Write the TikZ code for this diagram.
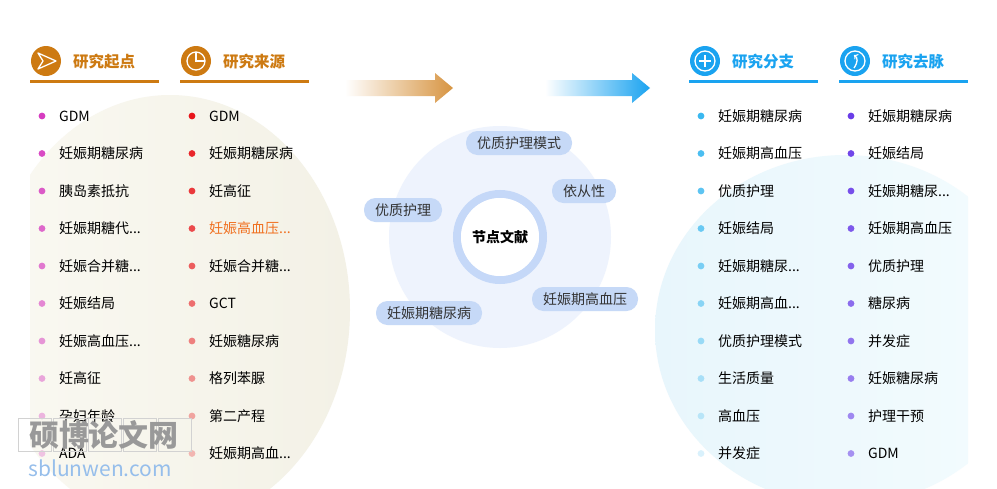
\documentclass[tikz,border=0pt]{standalone}
\usepackage{fontspec}
\setmainfont{Noto Sans CJK SC}
\newcommand\myel{...}
\begin{document}
\begin{tikzpicture}[x=1pt,y=-1pt,
  item/.style={anchor=west,font=\fontsize{14}{16}\selectfont,inner sep=0},
  hdr/.style={anchor=west,font=\fontsize{15.5}{18}\selectfont\bfseries,inner sep=0},
  tag/.style={fill=tagc,rounded corners=11.5pt,minimum height=24pt,inner xsep=11pt,font=\fontsize{14}{16}\selectfont,text=black!80}]
\definecolor{org}{HTML}{CD7A12}
\definecolor{blu}{HTML}{1AA3F0}
\definecolor{tagc}{HTML}{C6D9F7}
\useasboundingbox (0,0) rectangle (997,488);
\fill[white] (0,0) rectangle (997,488);
% background blobs
\begin{scope}
\clip (30,85) rectangle (400,488);
\shade[left color={rgb,255:red,250;green,249;blue,242},right color={rgb,255:red,243;green,241;blue,230}] (170,310) ellipse [x radius=180,y radius=215];
\end{scope}
\begin{scope}
\clip (600,85) rectangle (968,488);
\shade[left color={rgb,255:red,232;green,246;blue,252},right color={rgb,255:red,244;green,252;blue,254}] (845,330) ellipse [x radius=190,y radius=175];
\end{scope}
% center
\fill[color={rgb,255:red,238;green,243;blue,253}] (500,237) circle (111);
\draw[line width=8pt,color={rgb,255:red,197;green,216;blue,248}] (500,237) circle (43);
\fill[white] (500,237) circle (39);
\node[font=\fontsize{14}{16}\selectfont\bfseries] (c) at (500,237) {节点文献};
\node[tag] (t1) at (519,143) {优质护理模式};
\node[tag] (t2) at (584,191) {依从性};
\node[tag] (t3) at (403,210) {优质护理};
\node[tag] (t4) at (429,313) {妊娠期糖尿病};
\node[tag] (t5) at (585,299) {妊娠期高血压};
% arrows
\shade[left color=white,right color=org!80] (345,80) -- (435,80) -- (435,73) -- (453,88) -- (435,103) -- (435,96) -- (345,96) -- cycle;
\shade[left color=white,right color=blu] (545,80) -- (632,80) -- (632,73) -- (650,88) -- (632,103) -- (632,96) -- (545,96) -- cycle;
% headers
\foreach \x/\c/\t in {30/org/研究起点,180/org/研究来源,689/blu/研究分支,839/blu/研究去脉}{
  \fill[\c] (\x,79.5) rectangle (\x+129,82.5);
  \fill[\c] (\x+16,61) circle (15);
  \node[hdr,text=\c] at (\x+43,62) {\t};
}
% icons
\draw[white,line width=1.3pt,line join=round] (38,53) -- (56,61) -- (38,69) -- (43,61) -- cycle;
\draw[white,line width=1.3pt] (196,61) circle (9);
\draw[white,line width=1.3pt] (196,52) -- (196,61) -- (205,61);
\draw[white,line width=1.3pt] (705,61) circle (10);
\draw[white,line width=1.3pt] (705,55) -- (705,67) (699,61) -- (711,61);
\draw[white,line width=1.3pt] (855,61) circle (10);
\draw[white,line width=1.3pt,->] (854,68) .. controls (858,62) and (858,58) .. (854,55);
% lists
\foreach \i/\a/\b/\c/\d in {
0/GDM/GDM/妊娠期糖尿病/妊娠期糖尿病,
1/妊娠期糖尿病/妊娠期糖尿病/妊娠期高血压/妊娠结局,
2/胰岛素抵抗/妊高征/优质护理/妊娠期糖尿\myel,
3/妊娠期糖代\myel/妊娠高血压\myel/妊娠结局/妊娠期高血压,
4/妊娠合并糖\myel/妊娠合并糖\myel/妊娠期糖尿\myel/优质护理,
5/妊娠结局/GCT/妊娠期高血\myel/糖尿病,
6/妊娠高血压\myel/妊娠糖尿病/优质护理模式/并发症,
7/妊高征/格列苯脲/生活质量/妊娠糖尿病,
8/孕妇年龄/第二产程/高血压/护理干预,
9/ADA/妊娠期高血\myel/并发症/GDM}{
  \pgfmathsetmacro{\y}{116+37.5*\i}
  \fill[color={rgb,255:red,214;green,60;blue,192},opacity=1-\i*0.08] (42,\y) circle (3.4);
  \fill[color={rgb,255:red,232;green,21;blue,27},opacity=1-\i*0.08] (192,\y) circle (3.4);
  \fill[color={rgb,255:red,58;green,184;blue,240},opacity=1-\i*0.09] (701,\y) circle (3.4);
  \fill[color={rgb,255:red,106;green,61;blue,232},opacity=1-\i*0.05] (851,\y) circle (3.4);
  \node[item] at (59,\y) {\a};
  \ifnum\i=3 \node[item,text={rgb,255:red,240;green,112;blue,32}] at (209,\y) {\b};
  \else \node[item] at (209,\y) {\b}; \fi
  \node[item] at (718,\y) {\c};
  \node[item] at (868,\y) {\d};
}
% watermark
\foreach \k in {0,...,4} \draw[gray!35] (18+\k*35,418) rectangle (51+\k*35,451);
\node[font=\fontsize{30}{32}\selectfont\bfseries,text=gray!80] (wm) at (104,435) {硕博论文网};
\node[font=\fontsize{21}{24}\selectfont,text={rgb,255:red,150;green,190;blue,235}] (wm2) at (100,468) {sblunwen.com};
\end{tikzpicture}
\end{document}
